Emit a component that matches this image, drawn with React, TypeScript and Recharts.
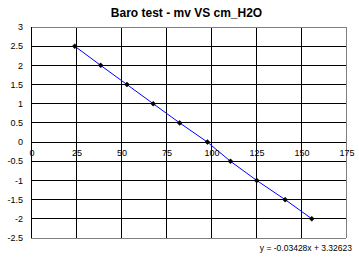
import React from 'react';
import { ScatterChart, Scatter, XAxis, YAxis, CartesianGrid, ReferenceLine } from 'recharts';

const mv = [24.3, 38.7, 53.3, 67.9, 82.6, 98.0, 110.8, 125.4, 141.2, 156.0];
const cmH2O = [2.5, 2, 1.5, 1, 0.5, 0, -0.5, -1, -1.5, -2];
const xTicks = [0, 25, 50, 75, 100, 125, 150, 175];
const yTicks = [3, 2.5, 2, 1.5, 1, 0.5, 0, -0.5, -1, -1.5, -2, -2.5];
const title = 'Baro test - mv VS cm_H2O';
const equation = 'y = -0.03428x + 3.32623';

const data = mv.map((x, i) => ({ x, y: cmH2O[i] }));

const W = 359;
const H = 258;
const margin = { top: 27, right: 13, bottom: 0, left: 0 };
const yAxisWidth = 31;
const xAxisHeight = 20;
const yMin = -2.5;
const yMax = 3;
const plotH = H - margin.top - margin.bottom - xAxisHeight;
const zeroShift = (plotH * (0 - yMin)) / (yMax - yMin);
const FONT = 'Liberation Sans, Arial, sans-serif';

const Diamond = (props: any) => {
  const { cx, cy } = props;
  if (cx == null || cy == null) return null;
  const r = 2.5;
  return (
    <polygon
      points={`${cx},${cy - r} ${cx + r},${cy} ${cx},${cy + r} ${cx - r},${cy}`}
      fill="#000"
      stroke="#000"
      strokeWidth={0.5}
    />
  );
};

const XTick = (props: any) => {
  const { x, y, payload } = props;
  return (
    <text x={x + 1} y={y - zeroShift + 14} textAnchor="middle" fontSize={9} fontFamily={FONT} fill="#000">
      {payload.value}
    </text>
  );
};

export default function App() {
  return (
    <div style={{ position: 'absolute', left: 0, top: 0, width: W, height: H, background: '#fff' }} className="chart">
      <style>{`.chart line{shape-rendering:crispEdges}`}</style>
      <div
        style={{
          position: 'absolute',
          left: 7,
          top: 6,
          width: W,
          textAlign: 'center',
          fontFamily: FONT,
          fontWeight: 'bold',
          fontSize: 12,
          lineHeight: '14px',
          color: '#000',
        }}
      >
        {title}
      </div>
      <ScatterChart width={W} height={H} margin={margin}>
        <CartesianGrid stroke="#000" strokeWidth={1} />
        <XAxis
          type="number"
          dataKey="x"
          domain={[0, 175]}
          ticks={xTicks}
          height={xAxisHeight}
          axisLine={false}
          tickLine={false}
          tickSize={0}
          tickMargin={0}
          tick={<XTick />}
          interval={0}
        />
        <YAxis
          type="number"
          dataKey="y"
          domain={[yMin, yMax]}
          ticks={yTicks}
          width={yAxisWidth}
          axisLine={{ stroke: '#000' }}
          tickLine={false}
          tickSize={0}
          tickMargin={8}
          interval={0}
          tick={{ fontSize: 9, fontFamily: FONT, fill: '#000' }}
        />
        <ReferenceLine y={3} stroke="#808080" />
        <ReferenceLine y={-2.5} stroke="#808080" />
        <ReferenceLine x={175} stroke="#808080" />
        <Scatter
          data={data}
          line={{ stroke: '#0000ff', strokeWidth: 1 }}
          shape={<Diamond />}
          isAnimationActive={false}
        />
      </ScatterChart>
      <div
        style={{
          position: 'absolute',
          right: 7,
          top: 243,
          fontFamily: FONT,
          fontSize: 8.5,
          lineHeight: '10px',
          color: '#000',
          whiteSpace: 'nowrap',
        }}
      >
        {equation}
      </div>
    </div>
  );
}
